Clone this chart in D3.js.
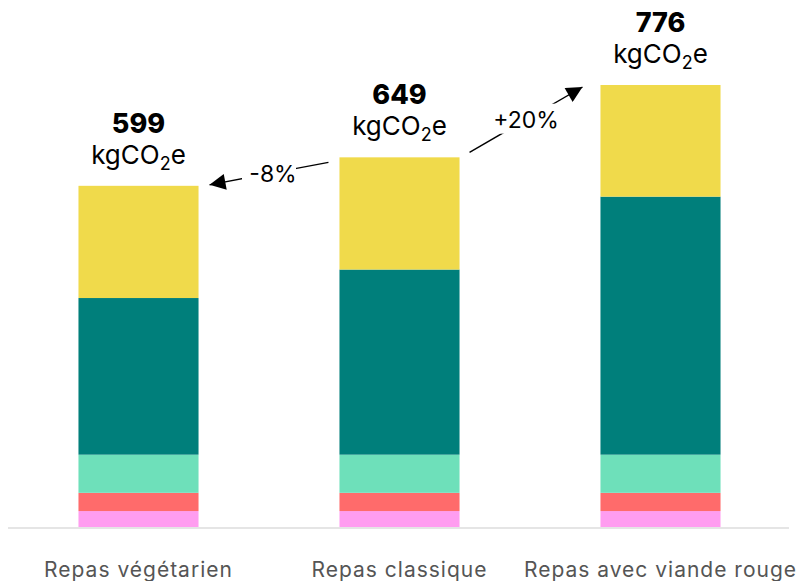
<!DOCTYPE html>
<html>
<head>
<meta charset="utf-8">
<script src="https://cdn.jsdelivr.net/npm/d3@7"></script>
<style>
  body { margin: 0; background: #fff; }
  text { font-family: Inter, "Noto Sans", sans-serif; }
</style>
</head>
<body>
<svg id="chart" width="799" height="581"></svg>
<script>
const meals = ["Repas végétarien", "Repas classique", "Repas avec viande rouge"];
const totals = [599, 649, 776];

// stacked from bottom to top
const segA = [28, 28, 28];
const segB = [32, 32, 32];
const segC = [67, 67, 67];
const segD = [275, 325, 453];
const segE = [197, 197, 196];

const keys = ["segA", "segB", "segC", "segD", "segE"];
const colors = ["#ff9df0", "#ff6b6b", "#6ee0ba", "#007f7b", "#f0da4b"];

const changes = [
  { from: 1, to: 0, label: "-8%" },
  { from: 1, to: 2, label: "+20%" }
];

const rows = meals.map((m, i) => ({
  meal: m, segA: segA[i], segB: segB[i], segC: segC[i], segD: segD[i], segE: segE[i]
}));

const svg = d3.select("#chart");

const x = d3.scaleBand()
  .domain(meals)
  .range([8, 791])
  .paddingInner(0.54)
  .paddingOuter(0.27);

const y = d3.scaleLinear()
  .domain([0, 776])
  .range([527, 85]);

const color = d3.scaleOrdinal().domain(keys).range(colors);

const stacked = d3.stack().keys(keys)(rows);

svg.append("g")
  .selectAll("g")
  .data(stacked)
  .enter().append("g")
    .attr("fill", d => color(d.key))
  .selectAll("rect")
  .data(d => d)
  .enter().append("rect")
    .attr("x", d => x(d.data.meal))
    .attr("width", x.bandwidth())
    .attr("y", d => y(d[1]))
    .attr("height", d => y(d[0]) - y(d[1]));

// baseline
svg.append("line")
  .attr("x1", 8).attr("x2", 789)
  .attr("y1", y(0) + 1).attr("y2", y(0) + 1)
  .attr("stroke", "#dcdcdc")
  .attr("stroke-width", 1.5);

// category labels
svg.append("g")
  .selectAll("text")
  .data(meals)
  .enter().append("text")
    .attr("x", d => x(d) + x.bandwidth() / 2)
    .attr("y", 577)
    .attr("text-anchor", "middle")
    .attr("fill", "#555")
    .attr("font-size", 21)
    .attr("letter-spacing", 1)
    .text(d => d);

// totals
const tot = svg.append("g")
  .selectAll("g")
  .data(meals)
  .enter().append("g")
    .attr("transform", (d, i) => `translate(${x(d) + x.bandwidth() / 2},${y(totals[i])})`);

tot.append("text")
  .attr("y", -53)
  .attr("text-anchor", "middle")
  .attr("font-size", 27)
  .attr("font-weight", 800)
  .attr("fill", "#000")
  .text((d, i) => totals[i]);

const unit = tot.append("text")
  .attr("y", -22)
  .attr("text-anchor", "middle")
  .attr("font-size", 26)
  .attr("fill", "#000");
unit.append("tspan").text("kgCO");
unit.append("tspan").attr("font-size", 18).attr("dy", 6).text("2");
unit.append("tspan").attr("dy", -6).text("e");

// change arrows
svg.append("defs").append("marker")
  .attr("id", "head")
  .attr("viewBox", "0 0 10 10")
  .attr("refX", 10).attr("refY", 5)
  .attr("markerWidth", 18).attr("markerHeight", 16)
  .attr("markerUnits", "userSpaceOnUse")
  .attr("orient", "auto")
  .append("path")
    .attr("d", "M0,0L10,5L0,10z")
    .attr("fill", "#000");

const arrowEnds = (c) => {
  const a = x(meals[c.from]), b = x(meals[c.to]);
  const w = x.bandwidth();
  if (c.to < c.from) {
    return [a - 11, y(totals[c.from]) + 5, b + w + 11, y(totals[c.to]) - 1];
  }
  return [a + w + 10, y(totals[c.from]) - 5, b - 18, y(totals[c.to]) + 2];
};

const arrows = svg.append("g")
  .selectAll("g")
  .data(changes)
  .enter().append("g");

arrows.append("line")
  .each(function(d) {
    const e = arrowEnds(d);
    d3.select(this)
      .attr("x1", e[0]).attr("y1", e[1])
      .attr("x2", e[2]).attr("y2", e[3]);
  })
  .attr("stroke", "#000")
  .attr("stroke-width", 1.4)
  .attr("marker-end", "url(#head)");

arrows.append("rect")
  .each(function(d) {
    const e = arrowEnds(d);
    const mx = (e[0] + e[2]) / 2, my = (e[1] + e[3]) / 2;
    const w = d.label.length * 14 + 12;
    d3.select(this)
      .attr("x", mx - w / 2).attr("y", my - 16)
      .attr("width", w).attr("height", 30)
      .attr("fill", "#fff");
  });

arrows.append("text")
  .each(function(d) {
    const e = arrowEnds(d);
    d3.select(this)
      .attr("x", (e[0] + e[2]) / 2 + (d.to < d.from ? 4 : 0))
      .attr("y", (e[1] + e[3]) / 2 + 8);
  })
  .attr("text-anchor", "middle")
  .attr("font-size", 23)
  .attr("fill", "#000")
  .text(d => d.label);
</script>
</body>
</html>
